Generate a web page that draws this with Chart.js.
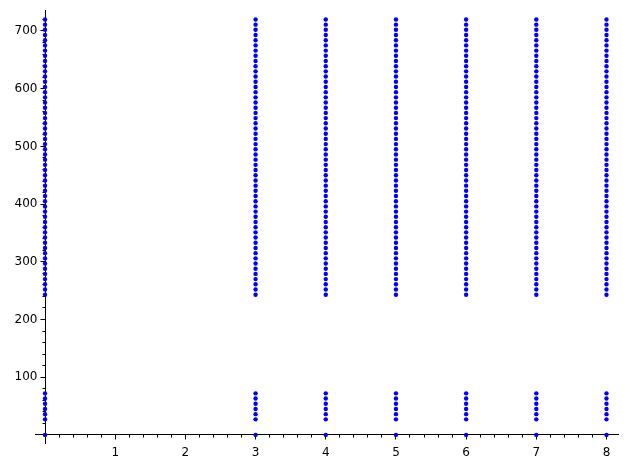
<!DOCTYPE html>
<html>
<head>
<meta charset="utf-8">
<script src="https://cdn.jsdelivr.net/npm/chart.js@4/dist/chart.umd.min.js"></script>
<style>
  html, body { margin: 0; padding: 0; background: #fff; }
  #wrap { width: 628px; height: 468px; }
</style>
</head>
<body>
<div id="wrap"><canvas id="chart" width="628" height="468"></canvas></div>
<script>
// x positions of the columns
const columnsX = [0, 3, 4, 5, 6, 7, 8];
// y values shared by every column
const lowerY = [0, 27, 36, 45, 54, 63, 72];
const upperY = [243, 252, 261, 270, 279, 288, 297, 306, 315, 324,
  333, 342, 351, 360, 369, 378, 387, 396, 405, 414,
  423, 432, 441, 450, 459, 468, 477, 486, 495, 504,
  513, 522, 531, 540, 549, 558, 567, 576, 585, 594,
  603, 612, 621, 630, 639, 648, 657, 666, 675, 684,
  693, 702, 711, 720];
// tick labels
const xTickLabels = ['1', '2', '3', '4', '5', '6', '7', '8'];
const yTickLabels = ['100', '200', '300', '400', '500', '600', '700'];

const columnY = lowerY.concat(upperY);
const points = [];
columnsX.forEach(x => columnY.forEach(y => points.push({ x: x, y: y })));

const FONT = { family: 'DejaVu Sans', size: 12 };
const xMin = -0.143, xMax = 8.164;
const yMin = -14, yMax = 736;

const ctx = document.getElementById('chart').getContext('2d');
new Chart(ctx, {
  type: 'scatter',
  data: {
    datasets: [{
      data: points,
      pointRadius: 2.2,
      pointHoverRadius: 2.2,
      pointBorderWidth: 0,
      backgroundColor: '#0000ff',
      borderColor: '#0000ff'
    }]
  },
  options: {
    responsive: false,
    animation: false,
    layout: { padding: { left: 35, right: 10, top: 9, bottom: 25 } },
    plugins: { legend: { display: false }, tooltip: { enabled: false } },
    scales: {
      x: {
        type: 'linear',
        min: xMin, max: xMax,
        position: { y: 0 },
        border: { display: true, color: '#000', width: 1 },
        grid: { drawOnChartArea: false, drawTicks: true, tickLength: 4.5, color: '#000' },
        ticks: {
          stepSize: 1,
          autoSkip: false,
          includeBounds: false,
          maxRotation: 0,
          padding: 6,
          color: '#000',
          font: FONT,
          callback: v => (xTickLabels.includes(String(v)) ? String(v) : '')
        }
      },
      xMinor: {
        type: 'linear',
        axis: 'x',
        min: xMin, max: xMax,
        position: { y: 0 },
        border: { display: false },
        grid: { drawOnChartArea: false, drawTicks: true, tickLength: 2.5, color: '#000' },
        ticks: { stepSize: 0.2, autoSkip: false, includeBounds: false, display: false }
      },
      y: {
        type: 'linear',
        min: yMin, max: yMax,
        position: { x: 0 },
        border: { display: true, color: '#000', width: 1 },
        grid: { drawOnChartArea: false, drawTicks: true, tickLength: 4.5, color: '#000' },
        ticks: {
          stepSize: 100,
          autoSkip: false,
          includeBounds: false,
          color: '#000',
          font: FONT,
          // labels sit flush on a value-positioned axis, so pad with two spaces
          callback: v => (yTickLabels.includes(String(v)) ? String(v) + '\u00a0\u00a0' : '')
        }
      },
      yMinor: {
        type: 'linear',
        axis: 'y',
        min: yMin, max: yMax,
        position: { x: 0 },
        border: { display: false },
        grid: { drawOnChartArea: false, drawTicks: true, tickLength: 2.5, color: '#000' },
        ticks: { stepSize: 20, autoSkip: false, includeBounds: false, display: false }
      }
    }
  }
});
</script>
</body>
</html>
